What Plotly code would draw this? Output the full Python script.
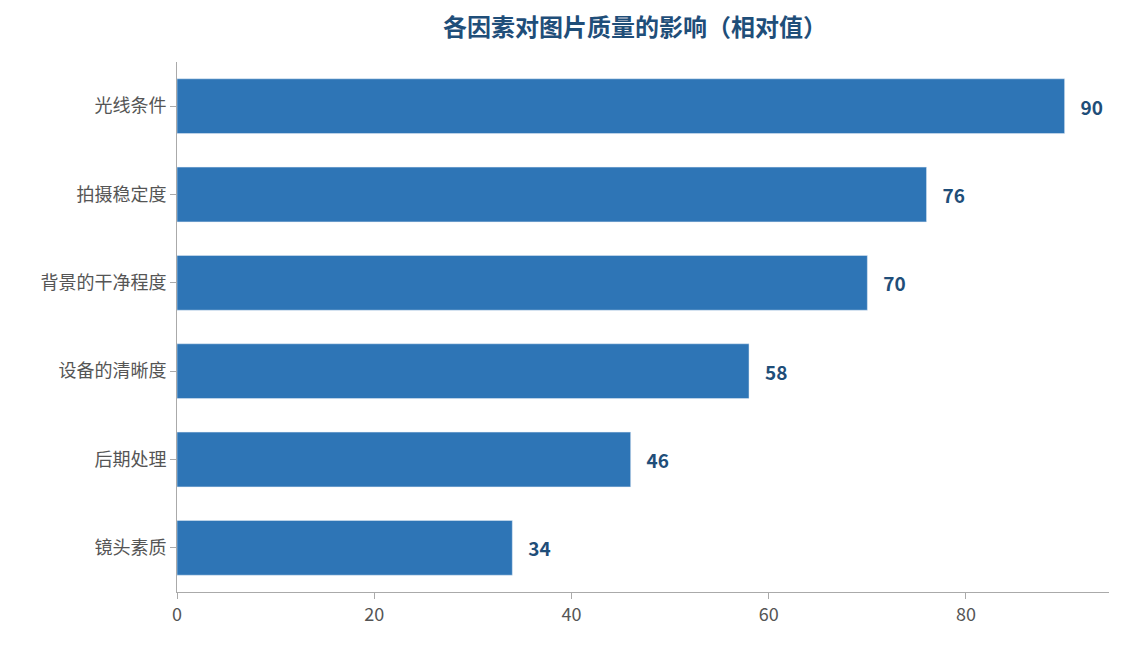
import plotly.graph_objects as go

categories = ["光线条件", "拍摄稳定度", "背景的干净程度", "设备的清晰度", "后期处理", "镜头素质"]
values = [90, 76, 70, 58, 46, 34]

fig = go.Figure(go.Bar(
    x=values, y=categories, orientation="h",
    marker=dict(color="#2e75b6"), width=0.62,
    texttemplate="\u00a0\u00a0\u00a0%{x}", textposition="outside",
    textfont=dict(family="Noto Sans CJK SC", size=19, color="#1f4e79", weight="bold"),
    cliponaxis=False,
))
fig.update_layout(
    width=1124, height=645,
    margin=dict(l=169, r=23, t=54, b=61),
    paper_bgcolor="white", plot_bgcolor="white",
    title=dict(text="<b>各因素对图片质量的影响（相对值）</b>", x=(635 - 8) / 1124, xanchor="center",
               y=1 - 20 / 645, yanchor="middle",
               font=dict(family="Noto Sans CJK SC", size=24, color="#1f4e79")),
    font=dict(family="Noto Sans CJK SC", size=18, color="#555555"),
    showlegend=False,
)
fig.update_xaxes(range=[0, 94.5], tickvals=[0, 20, 40, 60, 80], showgrid=False, zeroline=False,
                 showline=True, linecolor="#aaaaaa", ticks="outside", tickcolor="#aaaaaa", ticklen=6)
fig.update_yaxes(autorange="reversed", showgrid=False, showline=True, linecolor="#aaaaaa",
                 ticks="outside", tickcolor="#aaaaaa", ticklen=6)
fig.write_html("out.html")
